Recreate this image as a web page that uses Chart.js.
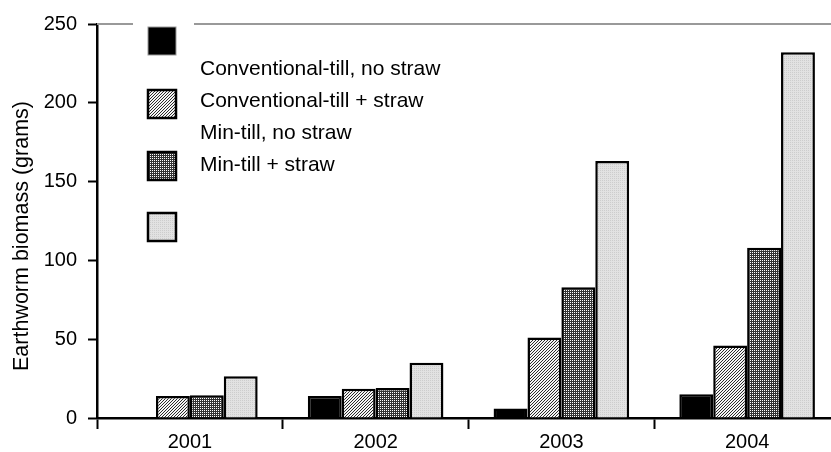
<!DOCTYPE html>
<html>
<head>
<meta charset="utf-8">
<script src="https://cdn.jsdelivr.net/npm/chart.js@4/dist/chart.umd.min.js"></script>
<style>
  html, body { margin: 0; padding: 0; background: #fff; overflow: hidden; }
  #wrap { width: 831px; height: 452px; overflow: hidden; position: relative; }
  #c { display: block; }
</style>
</head>
<body>
<div id="wrap"><canvas id="c" width="840" height="452"></canvas></div>
<script>
// ---- data ----
const categories = ['2001', '2002', '2003', '2004'];
const seriesNames = ['Conventional-till, no straw', 'Conventional-till + straw', 'Min-till, no straw', 'Min-till + straw'];
const convNoStraw = [0.5, 14, 6, 15];
const convStraw = [14, 18.5, 51, 46];
const minNoStraw = [14.5, 19, 83, 108];
const minStraw = [26.5, 35, 163, 232];
const yTicks = [0, 50, 100, 150, 200, 250];
const yTitle = 'Earthworm biomass (grams)';

// ---- fill patterns ----
function makePattern(size, draw) {
  const c = document.createElement('canvas');
  c.width = size; c.height = size;
  const g = c.getContext('2d');
  draw(g);
  return g.createPattern(c, 'repeat');
}
const ctx = document.getElementById('c').getContext('2d');
const hatch = makePattern(3, g => {
  g.fillStyle = '#f4f4f4'; g.fillRect(0, 0, 3, 3);
  g.fillStyle = '#2a2a2a';
  g.fillRect(2, 0, 1, 1); g.fillRect(1, 1, 1, 1); g.fillRect(0, 2, 1, 1);
});
const dense = makePattern(2, g => {
  g.fillStyle = '#333333'; g.fillRect(0, 0, 2, 2);
  g.fillStyle = '#ffffff'; g.fillRect(0, 0, 1, 1);
});
const light = makePattern(2, g => {
  g.fillStyle = '#e2e2e2'; g.fillRect(0, 0, 2, 2);
  g.fillStyle = '#cdcdcd'; g.fillRect(0, 0, 1, 1);
});
const fills = ['#000000', hatch, dense, light];

const FONT = '"Liberation Sans", Arial, Helvetica, sans-serif';

// top gray frame line, y-axis title and legend
const framePlugin = {
  id: 'frame',
  beforeDatasetsDraw(chart) {
    const a = chart.chartArea, g = chart.ctx;
    g.save();
    g.strokeStyle = '#999999';
    g.lineWidth = 2;
    g.beginPath();
    g.moveTo(a.left, a.top);
    g.lineTo(chart.width, a.top);
    g.stroke();
    g.restore();
  },
  afterDraw(chart) {
    const g = chart.ctx;
    g.save();
    // y-axis title
    g.save();
    g.translate(22, 236);
    g.rotate(-Math.PI / 2);
    g.fillStyle = '#000000';
    g.font = '21.5px ' + FONT;
    g.textAlign = 'center';
    g.textBaseline = 'middle';
    g.fillText(yTitle, 0, 0);
    g.restore();
    // legend
    g.fillStyle = '#ffffff';
    g.fillRect(133, 18, 61, 230);
    const boxY = [27, 90, 152, 213];
    const textY = [69, 101, 133, 165];
    chart.data.datasets.forEach((ds, i) => {
      g.fillStyle = ds.backgroundColor;
      g.fillRect(148, boxY[i], 28, 28);
      g.lineWidth = i === 0 ? 1 : 2.5;
      g.strokeStyle = i === 0 ? '#999999' : '#000000';
      g.strokeRect(148, boxY[i], 28, 28);
    });
    g.fillStyle = '#000000';
    g.font = '21px ' + FONT;
    g.textBaseline = 'middle';
    g.textAlign = 'left';
    chart.data.datasets.forEach((ds, i) => {
      g.fillText(ds.label, 200, textY[i]);
    });
    g.restore();
  }
};

const values = [convNoStraw, convStraw, minNoStraw, minStraw];

new Chart(ctx, {
  type: 'bar',
  data: {
    labels: categories,
    datasets: seriesNames.map((name, i) => ({
      label: name,
      data: values[i],
      backgroundColor: fills[i],
      borderColor: '#000000',
      borderWidth: 2.5,
      barPercentage: 1.0,
      categoryPercentage: 0.73
    }))
  },
  options: {
    responsive: false,
    animation: false,
    layout: { padding: { left: 0, top: 24, right: 0, bottom: 0 } },
    plugins: { legend: { display: false }, tooltip: { enabled: false } },
    scales: {
      x: {
        type: 'category',
        afterFit(s) { s.height = 34; },
        grid: {
          offset: true,
          drawOnChartArea: false,
          drawTicks: true,
          tickLength: 11,
          tickWidth: 2,
          tickColor: '#000000'
        },
        border: { display: true, color: '#000000', width: 2.5 },
        ticks: { color: '#000000', font: { family: FONT, size: 20 }, padding: 1, maxRotation: 0 }
      },
      y: {
        min: 0,
        max: 250,
        afterFit(s) { s.width = 97; },
        afterBuildTicks(s) { s.ticks = yTicks.map(v => ({ value: v })); },
        grid: {
          drawOnChartArea: false,
          drawTicks: true,
          tickLength: 9,
          tickWidth: 2,
          tickColor: '#000000'
        },
        border: { display: true, color: '#000000', width: 2.5 },
        ticks: { color: '#000000', font: { family: FONT, size: 20 }, padding: 11 },
        title: { display: false, text: yTitle }
      }
    }
  },
  plugins: [framePlugin]
});
</script>
</body>
</html>
